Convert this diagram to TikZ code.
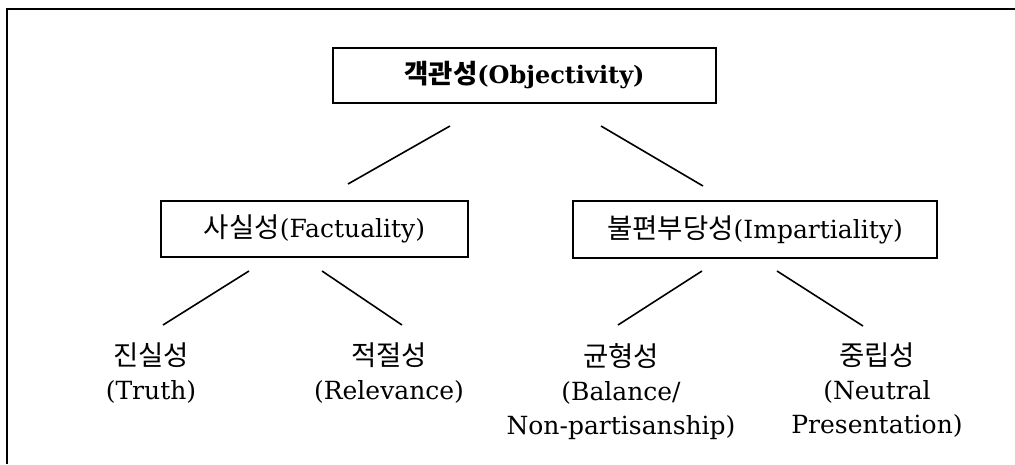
\documentclass[tikz,border=0pt]{standalone}
\usepackage{fontspec}
\setmainfont{DejaVu Serif}
\newfontfamily\kr[Scale=1.1]{Noto Sans CJK KR}

\tikzset{
  concept/.style={draw, line width=2pt, inner sep=0pt, align=center,
    font=\fontsize{25}{28}\selectfont},
  leaf/.style={anchor=north, inner sep=0pt, align=center,
    font=\fontsize{25}{34}\selectfont},
  branch/.style={line width=1.6pt},
}

\begin{document}
\begin{tikzpicture}[x=1pt,y=-1pt]
      \useasboundingbox (0,0) rectangle (1015,464);
      \draw[line width=2pt] (7,464) -- (7,9) -- (1015,9);
      \node[concept, minimum width=383pt, minimum height=55pt, font=\bfseries\fontsize{24}{28}\selectfont]
        (obj) at (524.5,75.5) {{\kr 객관성}(Objectivity)};
      \node[concept, minimum width=307pt, minimum height=56pt]
        (fact) at (314.5,229) {{\kr 사실성}(Factuality)};
      \node[concept, minimum width=364pt, minimum height=57pt]
        (imp) at (755,229.5) {{\kr 불편부당성}(Impartiality)};
      \node[leaf] (truth) at (151,343) {{\kr 진실성}\\(Truth)};
      \node[leaf] (rel) at (389,343) {{\kr 적절성}\\(Relevance)};
      \node[leaf] (bal) at (621,343) {{\kr 균형성}\\(Balance/\\Non-partisanship)};
      \node[leaf] (neu) at (877,343) {{\kr 중립성}\\(Neutral\\Presentation)};
      \coordinate (obj-l) at (450,126);
      \coordinate (obj-r) at (601,126);
      \coordinate (fact-t) at (348,184);
      \coordinate (imp-t) at (703,186);
      \coordinate (fact-l) at (249,271);
      \coordinate (fact-r) at (322,271);
      \coordinate (truth-t) at (163,325);
      \coordinate (rel-t) at (402,325);
      \coordinate (imp-l) at (702,271);
      \coordinate (imp-r) at (777,271);
      \coordinate (bal-t) at (618,325);
      \coordinate (neu-t) at (863,326);
      \begin{scope}[branch]
        \draw (obj-l) -- (fact-t);
        \draw (obj-r) -- (imp-t);
        \draw (fact-l) -- (truth-t);
        \draw (fact-r) -- (rel-t);
        \draw (imp-l) -- (bal-t);
        \draw (imp-r) -- (neu-t);
      \end{scope}
    \end{tikzpicture}
\end{document}
